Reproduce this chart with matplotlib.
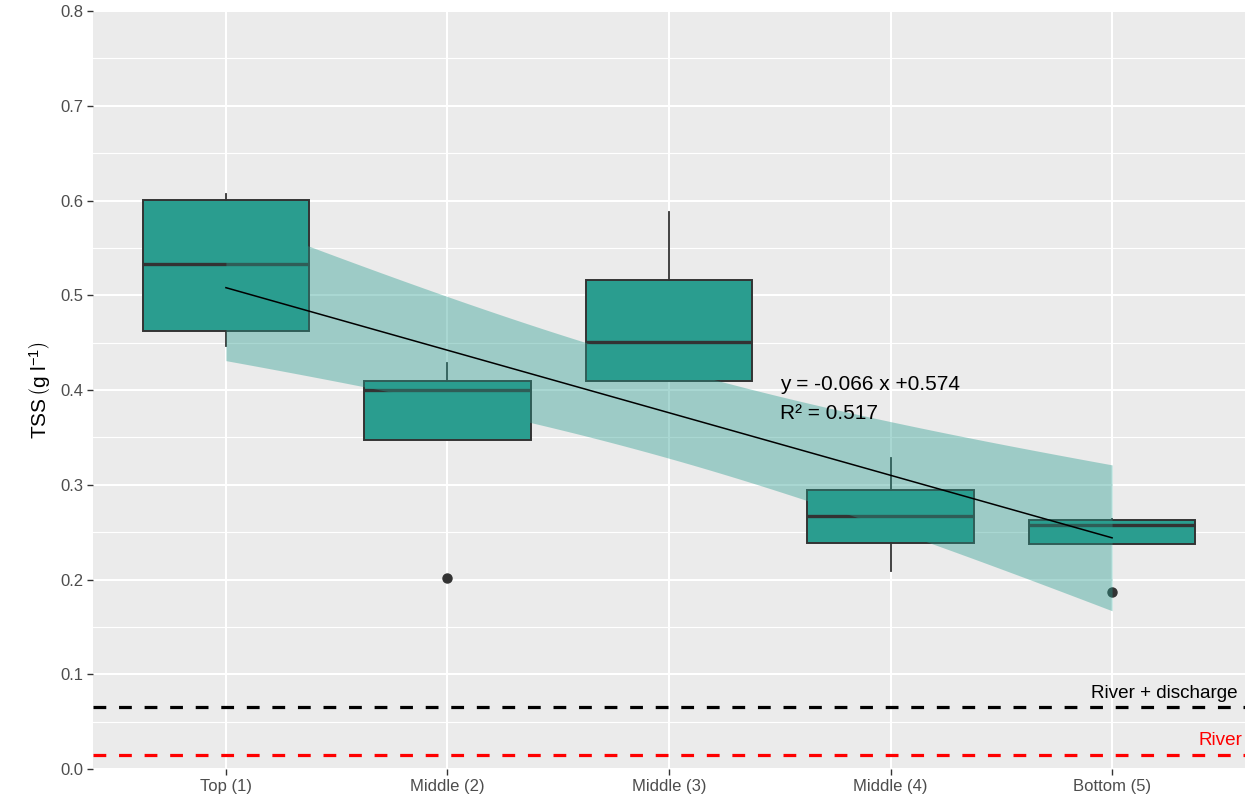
import numpy as np
import matplotlib
matplotlib.use("Agg")
import matplotlib.pyplot as plt

plt.rcParams['font.family'] = ['Liberation Sans', 'DejaVu Sans']
plt.rcParams['mathtext.fontset'] = 'custom'
plt.rcParams['mathtext.rm'] = 'Liberation Sans'
plt.rcParams['mathtext.it'] = 'Liberation Sans:italic'

# Sampling depth categories
categories = ["Top (1)", "Middle (2)", "Middle (3)", "Middle (4)", "Bottom (5)"]

# Box statistics of TSS (g/l) for each depth
whisker_low = [0.446, 0.347, 0.409, 0.209, 0.238]
q1 = [0.462, 0.347, 0.409, 0.239, 0.238]
median = [0.533, 0.400, 0.451, 0.267, 0.258]
q3 = [0.601, 0.410, 0.516, 0.295, 0.263]
whisker_high = [0.607, 0.429, 0.588, 0.328, 0.264]
outliers = [[], [0.202], [], [], [0.187]]

# Linear fit across depth index and its 95% confidence half-width
slope = -0.066
intercept = 0.574
r_squared = 0.517
ci_half_center = 0.048
ci_half_end = 0.077

# Reference levels
river_discharge = 0.065
river = 0.015

box_color = "#2A9D8F"
ink = "#333333"

fig = plt.figure(figsize=(12.5, 7.97), dpi=100)
ax = fig.add_axes([0.0744, 0.0351, 0.9216, 0.9511])
ax.set_facecolor("#EBEBEB")

positions = np.arange(1, len(categories) + 1)

# panel grid
for v in np.arange(0.05, 0.8, 0.1):
    ax.axhline(v, color="white", lw=0.8, zorder=0)
for v in np.arange(0.0, 0.81, 0.1):
    ax.axhline(v, color="white", lw=1.5, zorder=0.1)
for p in positions:
    ax.axvline(p, color="white", lw=1.5, zorder=0.1)

stats = []
for i in range(len(categories)):
    stats.append(dict(med=median[i], q1=q1[i], q3=q3[i],
                      whislo=whisker_low[i], whishi=whisker_high[i],
                      fliers=outliers[i]))

ax.bxp(stats, positions=positions, widths=0.75, patch_artist=True,
       showcaps=False, manage_ticks=False,
       boxprops=dict(facecolor=box_color, edgecolor=ink, linewidth=1.4),
       medianprops=dict(color=ink, linewidth=2.4, solid_capstyle='butt'),
       whiskerprops=dict(color=ink, linewidth=1.3),
       flierprops=dict(marker='o', markerfacecolor=ink, markeredgecolor=ink,
                       markersize=6.5),
       zorder=2)

# regression line with confidence band
xs = np.linspace(positions[0], positions[-1], 100)
fit = intercept + slope * xs
mid = (positions[0] + positions[-1]) / 2
half_span = (positions[-1] - positions[0]) / 2
half = np.sqrt(ci_half_center**2 +
               (ci_half_end**2 - ci_half_center**2) * ((xs - mid) / half_span) ** 2)
ax.fill_between(xs, fit - half, fit + half, color=box_color, alpha=0.4,
                linewidth=0, zorder=3)
ax.plot(xs, fit, color="black", lw=1.1, zorder=4)

ax.text(3.5, 0.406, f"y = {slope:.3f} x +{intercept:.3f}", fontsize=15,
        ha="left", va="center", color="black", zorder=5)
ax.text(3.5, 0.375, f"R² = {r_squared:.3f}", fontsize=15,
        ha="left", va="center", color="black", zorder=5)

# reference levels
ax.axhline(river_discharge, color="black", lw=2.3, dashes=(4, 4), zorder=4)
ax.axhline(river, color="red", lw=2.3, dashes=(4, 4), zorder=4)
ax.text(5.565, river_discharge + 0.0143, "River + discharge", fontsize=13.6,
        ha="right", va="center", color="black", zorder=5)
ax.text(5.59, river + 0.0146, "River", fontsize=13.6,
        ha="right", va="center", color="red", zorder=5)

ax.set_xlim(0.4, 5.6)
ax.set_ylim(0, 0.8)
ax.set_xticks(positions)
ax.set_xticklabels(categories)
ax.set_yticks(np.arange(0, 0.81, 0.1))
ax.set_yticklabels([f"{v:.1f}" for v in np.arange(0, 0.81, 0.1)])
ax.tick_params(axis="both", colors=ink, length=4, width=1.0, labelsize=12,
               labelcolor="#4D4D4D", pad=3)
for s in ax.spines.values():
    s.set_visible(False)

ax.set_ylabel(r"TSS$\,\left(\mathrm{g\ l^{-1}}\right)$", fontsize=15, labelpad=5)

fig.savefig("out.png", dpi=100)
